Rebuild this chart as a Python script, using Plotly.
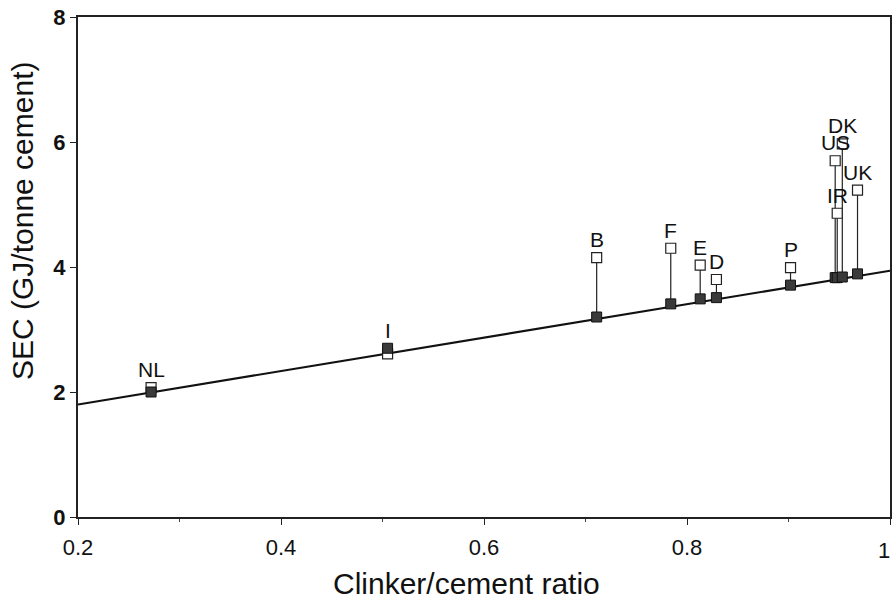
import plotly.graph_objects as go

# Countries, clinker/cement ratio, actual SEC (open squares), adjusted SEC (filled squares)
COUNTRIES = ["NL", "I", "B", "F", "E", "D", "P", "US", "IR", "DK", "UK"]
RATIO = [0.272, 0.505, 0.711, 0.784, 0.813, 0.829, 0.902, 0.946, 0.948, 0.953, 0.968]
SEC_ACTUAL = [2.07, 2.61, 4.15, 4.30, 4.03, 3.80, 3.99, 5.70, 4.86, 5.97, 5.23]
SEC_ADJUSTED = [2.00, 2.70, 3.20, 3.41, 3.49, 3.51, 3.71, 3.83, 3.83, 3.84, 3.89]

# Regression line end points
LINE_X = [0.2, 1.0]
LINE_Y = [1.80, 3.94]

X_TICKS = [0.2, 0.4, 0.6, 0.8, 1.0]
X_TICK_TEXT = ["0.2", "0.4", "0.6", "0.8", "1"]
Y_TICKS = [0, 2, 4, 6, 8]

FONT = "Liberation Sans, Arial, Helvetica, sans-serif"
INK = "#111"

fig = go.Figure()

# regression line
fig.add_trace(go.Scatter(x=LINE_X, y=LINE_Y, mode="lines",
                         line=dict(color=INK, width=2.2), hoverinfo="skip"))

# vertical connectors
vx, vy = [], []
for x, a, b in zip(RATIO, SEC_ACTUAL, SEC_ADJUSTED):
    vx += [x, x, None]
    vy += [a, b, None]
fig.add_trace(go.Scatter(x=vx, y=vy, mode="lines",
                         line=dict(color="#222", width=1.2), hoverinfo="skip"))

# open squares (actual)
fig.add_trace(go.Scatter(x=RATIO, y=SEC_ACTUAL, mode="markers",
                         marker=dict(symbol="square", size=10, color="white",
                                     line=dict(color="#222", width=1.2))))

# filled squares (adjusted)
fig.add_trace(go.Scatter(x=RATIO, y=SEC_ADJUSTED, mode="markers",
                         marker=dict(symbol="square", size=10, color="#3a3a3a",
                                     line=dict(color=INK, width=1))))

# country labels above the higher of the two squares
annotations = []
for name, x, a, b in zip(COUNTRIES, RATIO, SEC_ACTUAL, SEC_ADJUSTED):
    annotations.append(dict(x=x, y=max(a, b), xref="x", yref="y", text=name,
                            showarrow=False, yanchor="middle", xanchor="center",
                            yshift=18, font=dict(family=FONT, size=21, color=INK)))

# last x tick label kept inside the page
annotations.append(dict(x=X_TICKS[-1], y=0, xref="x", yref="paper",
                        text=X_TICK_TEXT[-1], showarrow=False,
                        xanchor="right", yanchor="top", yshift=-19, xshift=2,
                        font=dict(family=FONT, size=22, color=INK)))

# axis titles
annotations.append(dict(x=0.479, y=-0.132, xref="paper", yref="paper",
                        text="Clinker/cement ratio", showarrow=False,
                        xanchor="center", yanchor="middle",
                        font=dict(family=FONT, size=30, color=INK)))
annotations.append(dict(x=-0.069, y=0.592, xref="paper", yref="paper",
                        text="SEC (GJ/tonne cement)", showarrow=False, textangle=-90,
                        xanchor="center", yanchor="middle",
                        font=dict(family=FONT, size=30, color=INK)))

fig.update_layout(
    width=894, height=604,
    margin=dict(l=78, r=4, t=17, b=87),
    paper_bgcolor="white", plot_bgcolor="white",
    showlegend=False,
    font=dict(family=FONT, color=INK),
    annotations=annotations,
)

fig.update_xaxes(
    range=[0.2, 1.0], tickvals=X_TICKS,
    ticktext=X_TICK_TEXT[:-1] + [""],
    automargin=False,
    showgrid=False, zeroline=False,
    showline=True, linecolor="#222", linewidth=2, mirror=True,
    ticks="outside", ticklen=6, tickcolor="#222", tickwidth=1,
    ticklabelstandoff=4,
    minor=dict(dtick=0.1, ticks="outside", ticklen=3, tickcolor="#444"),
    tickfont=dict(family=FONT, size=22, color=INK),
)
fig.update_yaxes(
    range=[0, 8], tickvals=Y_TICKS,
    automargin=False,
    showgrid=False, zeroline=False,
    showline=True, linecolor="#222", linewidth=2, mirror=True,
    ticks="outside", ticklen=6, tickcolor="#222", tickwidth=1,
    tickfont=dict(family=FONT, size=22, color=INK, weight="bold"),
)

fig.write_html("out.html", config={"displayModeBar": False},
               post_script="document.body.style.margin='0';document.body.style.overflow='hidden';")
